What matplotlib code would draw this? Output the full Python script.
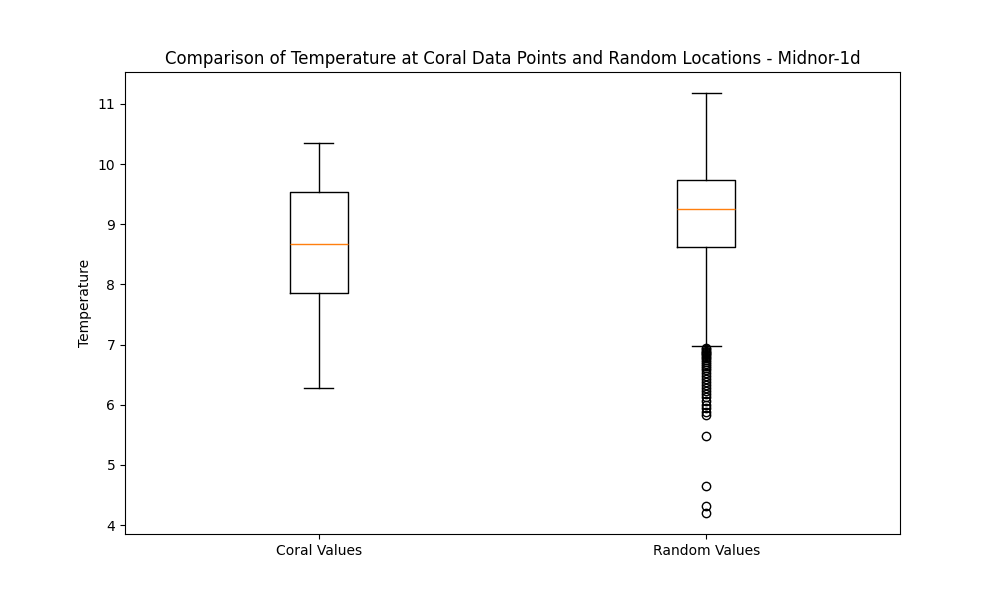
import matplotlib
matplotlib.use("Agg")
import matplotlib.pyplot as plt

labels = ["Coral Values", "Random Values"]
whislo = [6.28, 6.97]
q1 = [7.86, 8.62]
med = [8.67, 9.25]
q3 = [9.54, 9.73]
whishi = [10.35, 11.18]
fliers_coral = []
fliers_random = [6.94, 6.92, 6.90, 6.88, 6.86, 6.84, 6.82, 6.80, 6.77, 6.74, 6.71, 6.68,
                 6.65, 6.61, 6.57, 6.53, 6.48, 6.43, 6.38, 6.33, 6.28, 6.22, 6.17, 6.12,
                 6.06, 6.00, 5.94, 5.88, 5.83, 5.48, 4.65, 4.31, 4.20]
fliers = [fliers_coral, fliers_random]

stats = [dict(label=labels[i], whislo=whislo[i], q1=q1[i], med=med[i], q3=q3[i],
              whishi=whishi[i], fliers=fliers[i]) for i in range(2)]

fig, ax = plt.subplots(figsize=(10, 6), dpi=100)
ax.bxp(stats)
ax.set_title("Comparison of Temperature at Coral Data Points and Random Locations - Midnor-1d")
ax.set_ylabel("Temperature")
fig.savefig("out.png")
